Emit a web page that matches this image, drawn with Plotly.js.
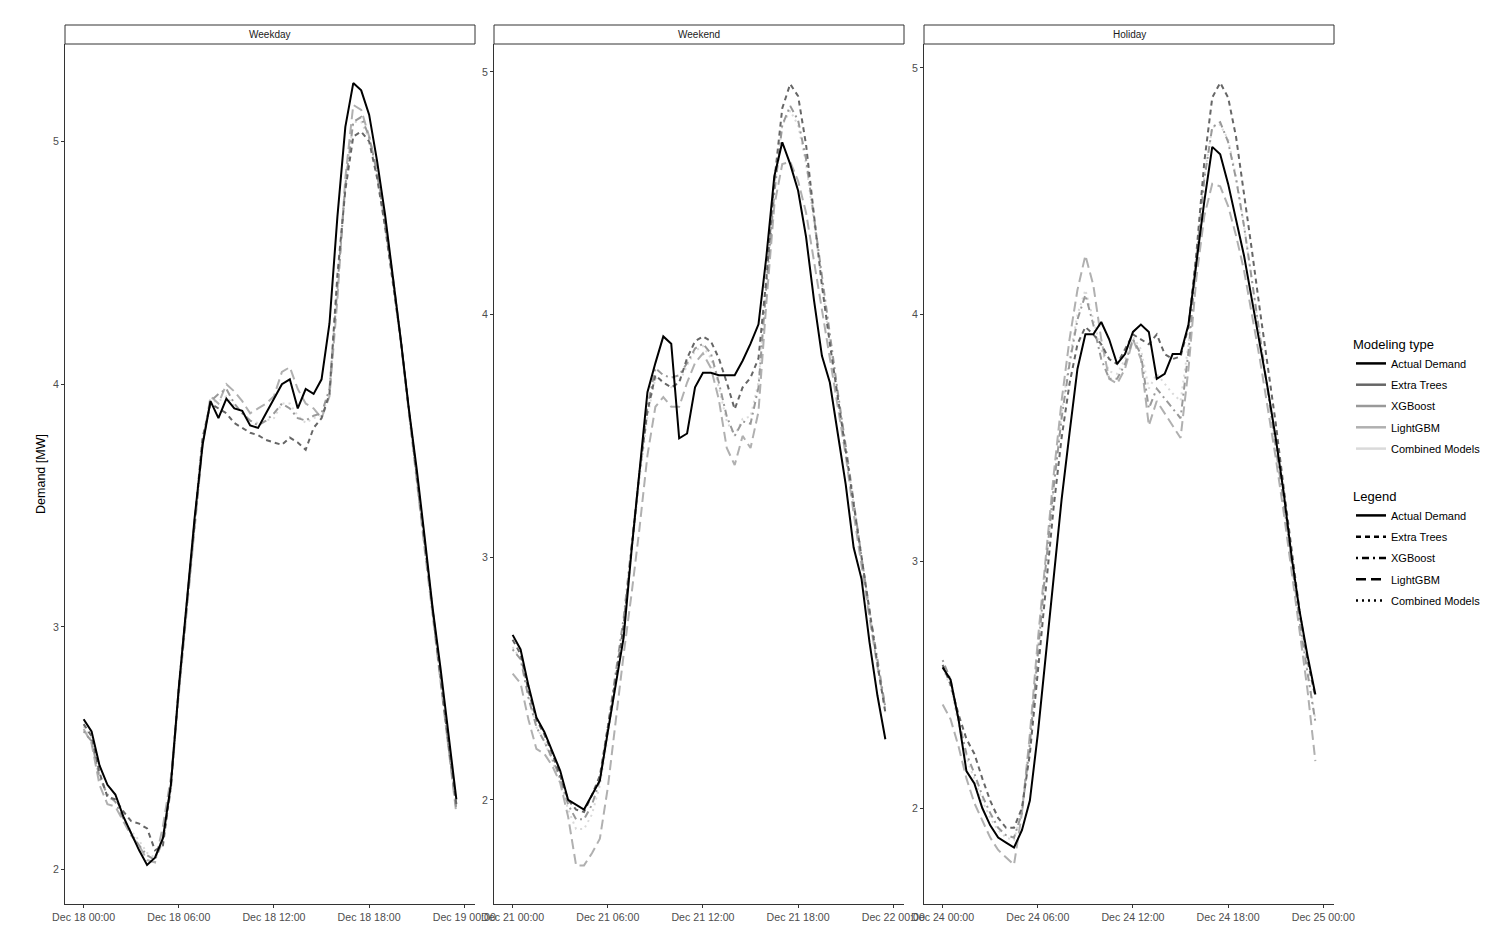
<!DOCTYPE html>
<html>
<head>
<meta charset="utf-8">
<script src="https://cdn.plot.ly/plotly-3.0.1.min.js"></script>
<style>html,body{margin:0;padding:0;background:#fff;}#chart{width:1511px;height:946px;}</style>
</head>
<body>
<div id="chart"></div>
<script>
// ---- data ----
const panelNames = ["Weekday", "Weekend", "Holiday"];
const panelDays = ["2019-12-18", "2019-12-21", "2019-12-24"];
const panelNextDays = ["2019-12-19", "2019-12-22", "2019-12-25"];
const times = ["00:00","00:30","01:00","01:30","02:00","02:30","03:00","03:30","04:00","04:30",
  "05:00","05:30","06:00","06:30","07:00","07:30","08:00","08:30","09:00","09:30",
  "10:00","10:30","11:00","11:30","12:00","12:30","13:00","13:30","14:00","14:30",
  "15:00","15:30","16:00","16:30","17:00","17:30","18:00","18:30","19:00","19:30",
  "20:00","20:30","21:00","21:30","22:00","22:30","23:00","23:30"];
const tickTimes = ["00:00", "06:00", "12:00", "18:00"];
const modelNames = ["Actual Demand", "Extra Trees", "XGBoost", "LightGBM", "Combined Models"];

// Weekday (Dec 18)
const weekdayActual = [2.62,2.57,2.43,2.35,2.31,2.22,2.15,2.08,2.02,2.05,2.13,2.35,2.75,3.10,3.45,3.75,3.93,3.86,3.94,3.90,3.89,3.83,3.82,3.88,3.94,4.00,4.02,3.90,3.98,3.96,4.02,4.25,4.69,5.06,5.24,5.21,5.11,4.92,4.70,4.45,4.18,3.90,3.65,3.37,3.08,2.83,2.55,2.29];
const weekdayExtraTrees = [2.60,2.55,2.40,2.30,2.29,2.24,2.20,2.19,2.17,2.08,2.10,2.35,2.75,3.10,3.45,3.78,3.92,3.90,3.88,3.84,3.82,3.80,3.79,3.77,3.76,3.75,3.78,3.76,3.73,3.82,3.86,3.96,4.45,4.80,5.02,5.04,5.00,4.85,4.65,4.42,4.18,3.90,3.62,3.35,3.08,2.80,2.52,2.27];
const weekdayXGBoost = [2.57,2.53,2.38,2.31,2.28,2.21,2.15,2.10,2.06,2.04,2.12,2.33,2.74,3.08,3.42,3.76,3.93,3.96,3.98,3.92,3.88,3.85,3.83,3.85,3.88,3.92,3.90,3.86,3.85,3.87,3.88,3.98,4.40,4.82,5.08,5.10,5.02,4.87,4.66,4.44,4.18,3.90,3.62,3.34,3.06,2.79,2.51,2.25];
const weekdayLightGBM = [2.58,2.52,2.35,2.27,2.26,2.20,2.14,2.10,2.04,2.03,2.18,2.38,2.72,3.05,3.40,3.75,3.95,3.92,4.00,3.97,3.93,3.88,3.90,3.92,3.95,4.05,4.07,3.98,3.92,3.90,3.86,3.95,4.35,4.85,5.15,5.13,5.02,4.88,4.66,4.43,4.17,3.88,3.60,3.32,3.05,2.78,2.50,2.23];
const weekdayCombined = [2.59,2.54,2.39,2.30,2.28,2.21,2.16,2.12,2.07,2.05,2.14,2.35,2.74,3.08,3.43,3.76,3.93,3.93,3.95,3.91,3.88,3.85,3.84,3.85,3.86,3.92,3.92,3.87,3.84,3.86,3.87,3.96,4.40,4.83,5.08,5.08,5.01,4.87,4.66,4.43,4.18,3.89,3.61,3.34,3.06,2.79,2.51,2.25];

// Weekend (Dec 21)
const weekendActual = [2.68,2.62,2.47,2.34,2.28,2.20,2.12,2.00,1.98,1.96,2.02,2.08,2.28,2.48,2.67,3.03,3.37,3.68,3.80,3.91,3.88,3.49,3.51,3.70,3.76,3.76,3.75,3.75,3.75,3.81,3.88,3.96,4.24,4.57,4.71,4.62,4.51,4.32,4.06,3.83,3.72,3.51,3.30,3.04,2.91,2.65,2.43,2.25];
const weekendExtraTrees = [2.66,2.60,2.45,2.33,2.27,2.19,2.10,2.00,1.96,1.95,2.02,2.10,2.30,2.50,2.72,3.05,3.35,3.60,3.75,3.72,3.70,3.72,3.82,3.89,3.91,3.89,3.82,3.72,3.61,3.70,3.74,3.82,4.15,4.55,4.85,4.95,4.90,4.70,4.42,4.12,3.88,3.66,3.44,3.20,2.98,2.76,2.56,2.36];
const weekendXGBoost = [2.62,2.58,2.42,2.30,2.24,2.17,2.09,1.98,1.92,1.92,1.98,2.08,2.30,2.52,2.75,3.05,3.35,3.62,3.78,3.75,3.74,3.75,3.80,3.86,3.88,3.84,3.72,3.58,3.50,3.56,3.55,3.70,4.12,4.50,4.78,4.86,4.80,4.64,4.40,4.14,3.90,3.68,3.46,3.22,3.00,2.78,2.57,2.38];
const weekendLightGBM = [2.52,2.48,2.33,2.21,2.19,2.14,2.07,1.93,1.73,1.73,1.78,1.84,2.05,2.33,2.60,2.85,3.12,3.42,3.62,3.66,3.62,3.62,3.72,3.80,3.84,3.78,3.65,3.45,3.38,3.50,3.45,3.60,4.05,4.45,4.62,4.63,4.55,4.42,4.22,4.02,3.82,3.62,3.42,3.18,2.96,2.75,2.55,2.38];
const weekendCombined = [2.63,2.58,2.43,2.30,2.24,2.16,2.08,1.96,1.88,1.88,1.94,2.06,2.26,2.48,2.72,3.02,3.32,3.58,3.74,3.72,3.70,3.72,3.79,3.85,3.87,3.82,3.70,3.56,3.50,3.57,3.58,3.72,4.12,4.52,4.78,4.84,4.78,4.62,4.38,4.12,3.88,3.66,3.44,3.20,2.98,2.77,2.56,2.36];

// Holiday (Dec 24)
const holidayActual = [2.57,2.52,2.36,2.15,2.10,2.00,1.93,1.88,1.86,1.84,1.91,2.03,2.30,2.62,2.95,3.25,3.52,3.78,3.92,3.92,3.97,3.90,3.80,3.84,3.93,3.96,3.93,3.74,3.76,3.84,3.84,3.96,4.21,4.46,4.68,4.65,4.53,4.38,4.24,4.06,3.88,3.70,3.50,3.28,3.02,2.80,2.62,2.46];
const holidayExtraTrees = [2.58,2.50,2.38,2.28,2.22,2.12,2.03,1.96,1.92,1.92,2.00,2.22,2.55,2.90,3.22,3.50,3.72,3.88,3.95,3.92,3.88,3.82,3.80,3.86,3.92,3.90,3.88,3.92,3.84,3.82,3.83,3.95,4.25,4.62,4.88,4.94,4.88,4.72,4.50,4.26,4.02,3.80,3.56,3.30,3.04,2.80,2.60,2.45];
const holidayXGBoost = [2.60,2.52,2.36,2.22,2.14,2.05,1.98,1.92,1.89,1.88,1.98,2.26,2.62,2.98,3.30,3.58,3.80,3.98,4.08,3.96,3.82,3.74,3.74,3.80,3.90,3.84,3.62,3.70,3.66,3.62,3.58,3.85,4.22,4.55,4.76,4.78,4.70,4.55,4.36,4.14,3.92,3.70,3.48,3.24,3.00,2.76,2.55,2.35];
const holidayLightGBM = [2.42,2.36,2.25,2.12,2.02,1.95,1.88,1.83,1.80,1.77,1.98,2.30,2.68,3.02,3.35,3.65,3.90,4.10,4.24,4.12,3.90,3.74,3.72,3.78,3.90,3.82,3.55,3.65,3.60,3.55,3.50,3.78,4.15,4.40,4.53,4.52,4.44,4.32,4.18,4.00,3.82,3.62,3.42,3.20,2.96,2.72,2.48,2.19];
const holidayCombined = [2.57,2.49,2.34,2.20,2.12,2.03,1.96,1.91,1.88,1.87,1.99,2.28,2.64,2.98,3.30,3.60,3.82,4.00,4.10,3.98,3.86,3.77,3.76,3.82,3.91,3.86,3.70,3.76,3.72,3.68,3.65,3.88,4.24,4.56,4.76,4.77,4.71,4.56,4.36,4.14,3.92,3.70,3.48,3.24,3.00,2.76,2.55,2.36];

const panelSeries = [
  [weekdayActual, weekdayExtraTrees, weekdayXGBoost, weekdayLightGBM, weekdayCombined],
  [weekendActual, weekendExtraTrees, weekendXGBoost, weekendLightGBM, weekendCombined],
  [holidayActual, holidayExtraTrees, holidayXGBoost, holidayLightGBM, holidayCombined]
];

// ---- styles ----
const W = 1511, H = 946;
const colors = ["#000000", "#666666", "#999999", "#b0b0b0", "#dadada"];
const dashes = ["solid", "5px,4px", "2px,4px,7px,4px", "10px,5px", "2px,4px"];
const panelPx = [[65, 475], [494, 904], [924, 1334]];
const plotTop = 44, plotBottom = 904, stripTop = 25;
const yRanges = [[1.859, 5.401], [1.571, 5.115], [1.611, 5.097]];
const fontFam = "Liberation Sans, Arial, sans-serif";
const tickColor = "#4d4d4d";

function shiftTime(day, hours) {
  const d = new Date(day + "T00:00:00Z");
  d.setTime(d.getTime() + hours * 3600000);
  return d.toISOString().replace("T", " ").slice(0, 19);
}

const traces = [];
const legendBase = {
  xanchor: "left", yanchor: "top", bgcolor: "rgba(0,0,0,0)", itemwidth: 30,
  font: {size: 11, color: "#000"}, tracegroupgap: 2.3
};
const layout = {
  width: W, height: H,
  margin: {l: 0, r: 0, t: 0, b: 0},
  paper_bgcolor: "#fff", plot_bgcolor: "#fff",
  font: {family: fontFam, color: "#000"},
  shapes: [], annotations: [],
  legend: Object.assign({}, legendBase, {
    title: {text: "Modeling type", font: {size: 13, color: "#000"}},
    x: 1351 / W, y: (H - 332) / H
  }),
  legend2: Object.assign({}, legendBase, {
    title: {text: "Legend", font: {size: 13, color: "#000"}},
    x: 1351 / W, y: (H - 484) / H
  })
};

panelNames.forEach((name, p) => {
  const sfx = p === 0 ? "" : String(p + 1);
  const xs = times.map(t => panelDays[p] + " " + t);
  // forecasts first, actual on top
  [4, 3, 2, 1, 0].forEach(m => {
    traces.push({
      type: "scatter", mode: "lines", x: xs, y: panelSeries[p][m],
      xaxis: "x" + sfx, yaxis: "y" + sfx, name: modelNames[m],
      line: {color: colors[m], width: 2, dash: dashes[m]},
      showlegend: false, hoverinfo: "skip"
    });
  });
  const x0 = panelPx[p][0] / W, x1 = panelPx[p][1] / W;
  const tickvals = tickTimes.map(t => panelDays[p] + " " + t).concat([panelNextDays[p] + " 00:00"]);
  layout["xaxis" + sfx] = {
    type: "date", domain: [x0, x1], anchor: "y" + sfx,
    range: [shiftTime(panelDays[p], -1.175), shiftTime(panelDays[p], 24.675)],
    tickvals: tickvals, tickformat: "%b %d %H:%M",
    showline: true, linecolor: "#333", linewidth: 1, ticks: "outside", ticklen: 3,
    tickcolor: "#333", showgrid: false, zeroline: false,
    tickfont: {size: 10.6, color: tickColor, family: fontFam}, fixedrange: true
  };
  layout["yaxis" + sfx] = {
    domain: [(H - plotBottom) / H, (H - plotTop) / H], anchor: "x" + sfx,
    range: yRanges[p], tickvals: [2, 3, 4, 5],
    showline: true, linecolor: "#333", linewidth: 1, ticks: "outside", ticklen: 3,
    tickcolor: "#333", showgrid: false, zeroline: false,
    tickfont: {size: 10.6, color: tickColor, family: fontFam}, fixedrange: true
  };
  if (p === 0) {
    layout.yaxis.title = {text: "Demand [MW]", font: {size: 12.5, color: "#000"}, standoff: 4};
  }
  layout.shapes.push({
    type: "rect", xref: "paper", yref: "paper",
    x0: x0, x1: x1, y0: (H - plotTop) / H, y1: (H - stripTop) / H,
    line: {color: "#333", width: 1}, fillcolor: "#fff"
  });
  layout.annotations.push({
    xref: "paper", yref: "paper", x: (x0 + x1) / 2, y: (H - (plotTop + stripTop) / 2) / H,
    text: name, showarrow: false, font: {size: 10, color: "#1a1a1a"},
    xanchor: "center", yanchor: "middle"
  });
});

// legend entries (each in its own group so tracegroupgap spaces them)
modelNames.forEach((n, m) => {
  traces.push({
    type: "scatter", mode: "lines", x: [null], y: [null], name: n,
    line: {color: colors[m], width: 2.5}, legend: "legend", legendgroup: "a" + m,
    showlegend: true, hoverinfo: "skip"
  });
});
modelNames.forEach((n, m) => {
  traces.push({
    type: "scatter", mode: "lines", x: [null], y: [null], name: n,
    line: {color: "#000", width: 2.5, dash: dashes[m]}, legend: "legend2", legendgroup: "b" + m,
    showlegend: true, hoverinfo: "skip"
  });
});

Plotly.newPlot("chart", traces, layout, {displayModeBar: false, staticPlot: true});
</script>
</body>
</html>
